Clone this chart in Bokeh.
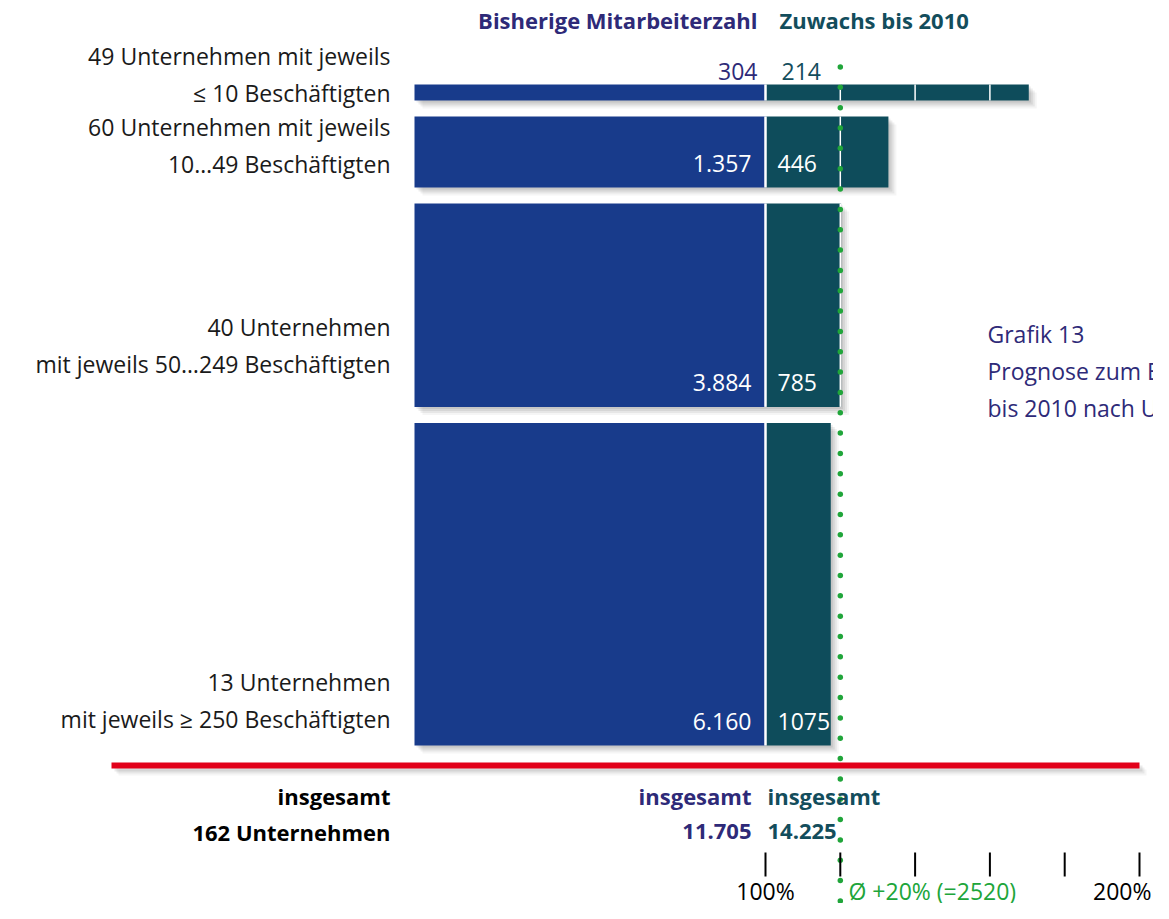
from bokeh.plotting import figure
from bokeh.models import Range1d
from bokeh.core.properties import value
from bokeh.embed import file_html
from bokeh.resources import INLINE
import numpy as np

# ---------------- data ----------------
label_line1 = ["49 Unternehmen mit jeweils", "60 Unternehmen mit jeweils",
               "40 Unternehmen", "13 Unternehmen"]
label_line2 = ["≤ 10 Beschäftigten", "10…49 Beschäftigten",
               "mit jeweils 50…249 Beschäftigten", "mit jeweils ≥ 250 Beschäftigten"]
current = [304, 1357, 3884, 6160]          # Bisherige Mitarbeiterzahl
growth = [214, 446, 785, 1075]             # Zuwachs bis 2010
companies_total = 162
avg_growth_pct = 20
tick_pcts = [100, 120, 140, 160, 180, 200]
tick_labels = ["100%", "", "", "", "", "200%"]
title_lines = ["Grafik 13", "Prognose zum Beschäftigungswachstum", "bis 2010 nach Unternehmensgröße"]

# ---------------- layout / style ----------------
W, H = 1153, 903
FONT = value("Open Sans")
FS = "23px"
FSB = "22px"
BLUE = "#183b8b"
TEAL = "#0e4c5b"
PURPLE = "#2e2a78"
TEALTXT = "#134d5c"
GREEN = "#20a53a"
RED = "#e2001a"

PX_PER_PCT = 3.74
X0 = 100 - 765 / PX_PER_PCT
S = 0.05237  # px per employee
Y0 = 84


def fx(sx):
    return X0 + sx / PX_PER_PCT


def fy(sy):
    return (sy - Y0) / S


def dx(px):
    return px / PX_PER_PCT


def dy(px):
    return px / S


p = figure(width=W, height=H, output_backend="svg", toolbar_location=None,
           x_range=Range1d(X0, X0 + W / PX_PER_PCT),
           y_range=Range1d(fy(H), fy(0)),
           min_border=0, outline_line_color=None, background_fill_color="white")
p.xaxis.visible = False
p.yaxis.visible = False
p.grid.visible = False

# bar geometry from data
gap = dy(16)
tops, bottoms = [], []
y = 0.0
for v in current:
    tops.append(y)
    bottoms.append(y + v)
    y += v + gap
tops = np.array(tops)
bottoms = np.array(bottoms)
pct = np.array([100.0 * g / c for g, c in zip(growth, current)])
ends = 100 + pct
blue_left = fx(414)

# shadows
for off, a in [(2, 0.07), (4, 0.07), (6, 0.06), (8, 0.04)]:
    p.quad(left=blue_left + dx(off), right=ends + dx(off), top=tops + dy(off),
           bottom=bottoms + dy(off), fill_color="black", fill_alpha=a, line_color=None)

p.quad(left=blue_left, right=100, top=tops, bottom=bottoms, fill_color=BLUE, line_color=None)
p.quad(left=100, right=ends, top=tops, bottom=bottoms, fill_color=TEAL, line_color=None)
# separator
p.segment(x0=[100] * 4, x1=[100] * 4, y0=tops, y1=bottoms, line_color="white", line_width=2.5)
# white grid lines inside the growth bars
gx0, gy0, gy1 = [], [], []
for t, b, e in zip(tops, bottoms, ends):
    for g in tick_pcts[1:-1]:
        if g < e:
            gx0.append(g); gy0.append(t); gy1.append(b)
p.segment(x0=gx0, x1=gx0, y0=gy0, y1=gy1, line_color="white", line_width=1.5)

# left labels
line2_off = [7, 23, 43, 26]
l2y = bottoms - np.array([dy(o) for o in line2_off])
l1y = l2y - dy(37)
p.text(x=[fx(390)] * 4, y=l1y, text=label_line1, text_align="right", text_baseline="middle",
       text_font=FONT, text_font_size=FS, text_color="#1a1a1a")
p.text(x=[fx(390)] * 4, y=l2y, text=label_line2, text_align="right", text_baseline="middle",
       text_font=FONT, text_font_size=FS, text_color="#1a1a1a")

# value labels


def de(v):
    return f"{v:,}".replace(",", ".")


for t, b, c, g in zip(tops, bottoms, current, growth):
    if (b - t) * S < 30:
        yy = t - dy(13)
        p.text(x=[fx(757)], y=[yy], text=[de(c)], text_align="right", text_baseline="middle",
               text_font=FONT, text_font_size=FS, text_color=PURPLE)
        p.text(x=[fx(781)], y=[yy], text=[str(g)], text_align="left", text_baseline="middle",
               text_font=FONT, text_font_size=FS, text_color=TEALTXT)
    else:
        yy = b - dy(24)
        p.text(x=[fx(751)], y=[yy], text=[de(c)], text_align="right", text_baseline="middle",
               text_font=FONT, text_font_size=FS, text_color="white")
        p.text(x=[fx(777)], y=[yy], text=[str(g)], text_align="left", text_baseline="middle",
               text_font=FONT, text_font_size=FS, text_color="white")

# red total line with shadow
for off, a in [(3, 0.08), (5, 0.06), (7, 0.04)]:
    p.segment(x0=[fx(111) + dx(off)], x1=[200 + dx(off)], y0=[fy(765) + dy(off)], y1=[fy(765) + dy(off)],
              line_color="black", line_alpha=a, line_width=6)
p.segment(x0=[fx(111)], x1=[200], y0=[fy(765)], y1=[fy(765)], line_color=RED, line_width=6)

# average dotted line
dots_y = np.arange(66.5, 903, 20.34)
p.scatter(x=[100 + avg_growth_pct] * len(dots_y), y=fy(dots_y), size=5.5,
          fill_color=GREEN, line_color=None)

# header
p.text(x=[fx(757)], y=[fy(19)], text=["Bisherige Mitarbeiterzahl"], text_align="right",
       text_baseline="middle", text_font=FONT, text_font_size=FSB, text_font_style="bold",
       text_color=PURPLE)
p.text(x=[fx(779)], y=[fy(19)], text=["Zuwachs bis 2010"], text_align="left",
       text_baseline="middle", text_font=FONT, text_font_size=FSB, text_font_style="bold",
       text_color=TEALTXT)

# title block on right
p.text(x=[fx(987)] * 3, y=[fy(333), fy(370), fy(407)], text=title_lines, text_align="left",
       text_baseline="middle", text_font=FONT, text_font_size=FS, text_color=PURPLE)

# totals
tot_cur = sum(current)
tot_new = tot_cur + sum(growth)
p.text(x=[fx(390)] * 2, y=[fy(795), fy(831)], text=["insgesamt", f"{companies_total} Unternehmen"],
       text_align="right", text_baseline="middle", text_font=FONT, text_font_size=FSB,
       text_font_style="bold", text_color="black")
p.text(x=[fx(751)] * 2, y=[fy(795), fy(831)], text=["insgesamt", de(tot_cur)],
       text_align="right", text_baseline="middle", text_font=FONT, text_font_size=FSB,
       text_font_style="bold", text_color=PURPLE)
p.text(x=[fx(767)] * 2, y=[fy(795), fy(831)], text=["insgesamt", de(tot_new)],
       text_align="left", text_baseline="middle", text_font=FONT, text_font_size=FSB,
       text_font_style="bold", text_color=TEALTXT)

# bottom scale
p.segment(x0=tick_pcts, x1=tick_pcts, y0=[fy(852)] * len(tick_pcts), y1=[fy(876)] * len(tick_pcts),
          line_color="black", line_width=2)
p.text(x=tick_pcts[:1], y=[fy(890)], text=tick_labels[:1], text_align="center",
       text_baseline="middle", text_font=FONT, text_font_size=FS, text_color="black")
p.text(x=[fx(1151)], y=[fy(890)], text=tick_labels[-1:], text_align="right",
       text_baseline="middle", text_font=FONT, text_font_size=FS, text_color="black")
p.text(x=[fx(848)], y=[fy(890)], text=[f"Ø +{avg_growth_pct}% (={sum(growth)})"], text_align="left",
       text_baseline="middle", text_font=FONT, text_font_size=FS, text_color=GREEN)

open("out.html", "w").write(file_html(p, INLINE))
